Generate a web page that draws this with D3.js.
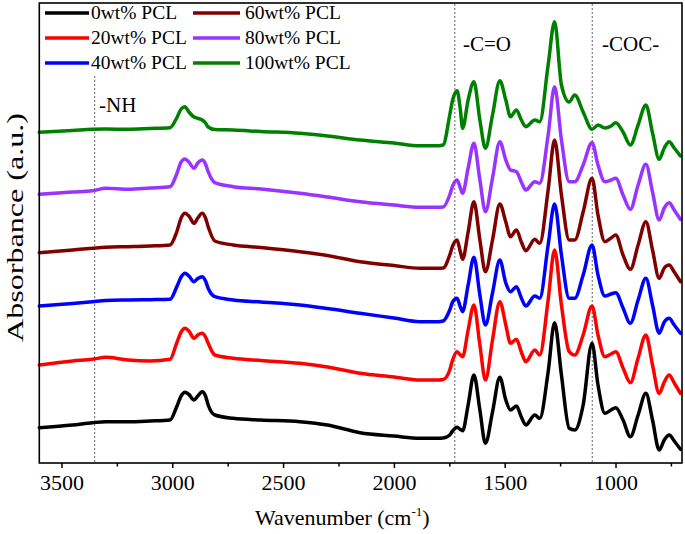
<!DOCTYPE html>
<html>
<head>
<meta charset="utf-8">
<script src="https://cdn.jsdelivr.net/npm/d3@7"></script>
<style>
  html, body { margin: 0; padding: 0; background: #fff; }
  svg { display: block; font-family: "Liberation Serif", "Times New Roman", serif; }
  svg text { font-family: "Liberation Serif", "Times New Roman", serif; }
</style>
</head>
<body>
<svg id="chart" width="685" height="534"></svg>
<script>
// ---- data (wavenumber in cm^-1, absorbance in a.u., stacked offsets included) ----
const wavenumbers = [3600,3450,3360,3300,3200,3100,3010,2980,2960,2943,2925,2902,2885,2865,2850,2838,2808,2725,2600,2424,2300,2153,2000,1883,1800,1778,1748,1735,1715,1700,1690,1665,1639,1612,1587,1555,1522,1495,1474,1447,1425,1405,1364,1342,1304,1275,1244,1209,1184,1146,1106,1079,1048,1020,999,966,933,898,863,833,803,780,758,735,707];

const pcl0 = [35.3,38,40.3,41.3,41.3,42,43,56.3,67,70.7,68.5,63,67,71.3,67,58,48,44.7,43,41.3,38,30.3,27,24.7,24.7,25,28,32,35.7,33.5,32.3,58,88,53,19.7,51,85.7,63,53,57,46,38,48,44.7,91,140.3,88,34.7,33,58,119.7,78,49.7,53,55.3,43,26.3,48,69.7,43,13,23,28,22,13.7];
const pcl20 = [98,102,103.7,105.7,103,102,103.7,120,131,134.7,132,124.7,128,129.7,126,119.7,108,104.7,102.5,99.7,96,89.7,86,83,83,83.5,93,103,111.3,108,106.3,133,158,118,83,123,161.3,138,119.7,123.7,111,101.3,113,108,163,213,158,111.3,108,128,157,128,106.3,109,111.3,95,80.3,105,128,98,69.7,81,88,80,69.7];
const pcl40 = [157,159.5,161.3,162.5,163,163.3,163.7,176,186,189.7,187,181.3,184.5,186.3,182,174.7,166.3,163,161,158,154.5,149.7,145,141.3,141.3,142,153,161,164.7,156,151.3,178,205.7,168,138,170,203,180,171.3,176.3,165,157,167,164.7,218,259,208,164.7,164.7,188,218,188,167,169,170.3,155,139.7,163,184.7,158,129.7,141,144.7,138,129.7];
const pcl60 = [210.3,213,214.7,215.7,216.3,217,218,231,245,249.7,247,239.7,245,249.7,245,236.3,222,218,215.5,211.3,207.5,201.3,197.5,194.7,194.7,195,208,217,223,211,203.7,231,261.3,223,191.3,223,259,241,226.3,233,221,212.3,223.7,219.7,273,323,268,223,223,251,284.7,248,221.3,225,228,208,193.7,218,241.3,213,184.7,195,198,191,181.3];
const pcl80 = [268.7,271,272.3,274.7,273.7,275,276.3,289,301,304,301,294.7,300,303,299,291.3,280.3,276.3,274,269.7,266,261.3,258,255.7,255.7,256,268,277,283,275,269.7,295,319.7,283,251.3,285,321.3,303,293,291.3,281,273,281.3,279.7,328,376.3,323,281.3,281.3,298,320.3,298,281.3,283,284.7,268,253.7,278,298.7,271,243,255,260.3,253,243.7];
const pcl100 = [330.7,332.5,333.7,334,333.7,334.5,335.3,345,354,356.3,351,346,344.7,343,340,336,333.5,333,331.5,329.7,327,323,320,317.3,317.3,318,348,363,372.3,353,334.7,363,381.3,343,314.7,348,382.3,363,346.3,353,343,336.3,343,341.3,398,441.3,378,361,368,351,333.7,338,335,337,340.3,331,318,338,358,330,303.7,315,321.3,315,307];

const seriesNames = ["0wt% PCL","20wt% PCL","40wt% PCL","60wt% PCL","80wt% PCL","100wt% PCL"];
const seriesColors = ["#000000","#ff0000","#0000ff","#800000","#9933ff","#008000"];
const seriesValues = [pcl0, pcl20, pcl40, pcl60, pcl80, pcl100];

const majorTicks = [3500,3000,2500,2000,1500,1000];
const minorTicks = [3250,2750,2250,1750,1250,750];
const markerLines = [3350, 1725, 1105];
const bandLabels = ["-NH","-C=O","-COC-"];

// ---- layout ----
const svg = d3.select("#chart");
const SERIF = '"Liberation Serif", "Times New Roman", serif';
const L = 39.3, R = 682, T = 3, B = 463;
const x = d3.scaleLinear().domain([3600, 700]).range([L, R]);
const y = d3.scaleLinear().domain([0, 460]).range([B, T]);

// marker (dotted) lines
const markerTop = [76, 4, 4];
svg.selectAll("line.marker").data(markerLines).join("line")
  .attr("class","marker")
  .attr("x1", d => x(d)).attr("x2", d => x(d))
  .attr("y1", (d,i) => markerTop[i]).attr("y2", B)
  .attr("stroke", "#666").attr("stroke-width", 1)
  .attr("stroke-dasharray", "2,2");

// curves
const line = d3.line()
  .x(d => x(d[0])).y(d => y(d[1]))
  .curve(d3.curveMonotoneX);

seriesValues.forEach((vals, i) => {
  svg.append("path")
    .datum(wavenumbers.map((w, j) => [w, vals[j]]))
    .attr("fill", "none")
    .attr("stroke", seriesColors[i])
    .attr("stroke-width", 3.5)
    .attr("stroke-linejoin", "round")
    .attr("stroke-linecap", "round")
    .attr("d", line);
});

// band labels
const bandPos = [[99, 112], [463, 51], [602, 51]];
svg.selectAll("text.band").data(bandLabels).join("text")
  .attr("class","band")
  .attr("x", (d,i) => bandPos[i][0]).attr("y", (d,i) => bandPos[i][1])
  .attr("font-size", 21).attr("fill", "#000")
  .text(d => d);

// legend
const legRows = [19, 44, 69];
const legCols = [[45, 89, 91], [193, 240, 245]];
seriesNames.forEach((name, i) => {
  const c = legCols[Math.floor(i / 3)], r = legRows[i % 3];
  svg.append("line")
    .attr("x1", c[0]).attr("x2", c[1]).attr("y1", r - 6).attr("y2", r - 6)
    .attr("stroke", seriesColors[i]).attr("stroke-width", 3.5);
  svg.append("text").attr("x", c[2]).attr("y", r)
    .attr("font-size", 19.5).text(name);
});

// frame
svg.append("rect").attr("x", L).attr("y", T).attr("width", R - L).attr("height", B - T)
  .attr("fill", "none").attr("stroke", "#000").attr("stroke-width", 1.6);

// axis
const axis = d3.axisBottom(x).tickValues(majorTicks).tickSize(5).tickPadding(6.5)
  .tickFormat(d3.format("d"));
const gAxis = svg.append("g").attr("transform", `translate(0,${B})`).call(axis);
gAxis.attr("font-family", SERIF).attr("font-size", 22);
gAxis.select(".domain").remove();
gAxis.selectAll(".tick line").attr("stroke", "#000").attr("stroke-width", 1.5);
gAxis.selectAll(".tick text").attr("fill", "#000")
  .style("font-family", SERIF).style("font-size", "22px");

const minorAxis = d3.axisBottom(x).tickValues(minorTicks).tickSize(3.5).tickFormat("");
const gMinor = svg.append("g").attr("transform", `translate(0,${B})`).call(minorAxis);
gMinor.select(".domain").remove();
gMinor.selectAll(".tick line").attr("stroke", "#000").attr("stroke-width", 1.5);

// axis titles
const xt = svg.append("text").attr("x", 255).attr("y", 525).attr("font-size", 22);
xt.append("tspan").text("Wavenumber (cm");
xt.append("tspan").attr("font-size", 13).attr("dy", -9).text("-1");
xt.append("tspan").attr("dy", 9).text(")");

svg.append("text")
  .attr("transform", "translate(22.5,227.5) rotate(-90)")
  .attr("text-anchor", "middle")
  .attr("font-size", 23)
  .attr("textLength", 229).attr("lengthAdjust", "spacingAndGlyphs")
  .text("Absorbance (a.u.)");
</script>
</body>
</html>
